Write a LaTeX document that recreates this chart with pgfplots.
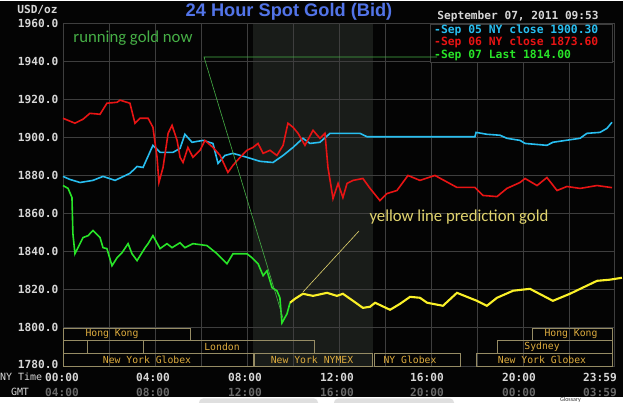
\documentclass[border=0pt]{standalone}
\usepackage{pgfplots}
\pgfplotsset{compat=1.18}
\usepackage{fontspec}
\setmainfont{Liberation Sans}
\newfontfamily\mono{DejaVu Sans Mono}
\newfontfamily\calib{Carlito}
\definecolor{bgk}{RGB}{4,4,4}
\definecolor{shadec}{RGB}{25,28,25}
\definecolor{gridc}{RGB}{62,62,62}
\definecolor{cy}{RGB}{40,190,240}
\definecolor{rd}{RGB}{232,20,20}
\definecolor{gr}{RGB}{40,228,40}
\definecolor{yl}{RGB}{250,240,40}
\definecolor{titlec}{RGB}{82,116,232}
\definecolor{labc}{RGB}{215,215,215}
\definecolor{gmtc}{RGB}{105,105,105}
\definecolor{sessl}{RGB}{150,140,100}
\definecolor{sesst}{RGB}{222,172,62}
\definecolor{anng}{RGB}{70,175,70}
\definecolor{anny}{RGB}{225,212,110}
\begin{document}
\begin{tikzpicture}
\useasboundingbox (0,0) rectangle (625bp,403bp);
\fill[white] (0,0) rectangle (625bp,403bp);
\fill[bgk] (0,6bp) rectangle (623bp,402bp);
\fill[shadec] (253bp,37bp) rectangle (373bp,380bp);
\fill[gray!25, rounded corners=4bp] (199bp,-6bp) rectangle (318bp,4.5bp);
\fill[gray!25, rounded corners=4bp] (334bp,-6bp) rectangle (454bp,4.5bp);
\node[anchor=base east, inner sep=0, font=\calib\fontsize{6}{6}\selectfont, text=black!80] at (581bp,1.5bp) {Glossary};
\begin{axis}[at={(63bp,37bp)}, anchor=south west, scale only axis,
  width=551.6bp, height=343bp,
  xmin=0, xmax=23.983, ymin=1780, ymax=1960,
  xtick={0,2,...,22}, ytick={1780,1800,...,1960},
  xticklabels={}, yticklabels={},
  grid=major, major grid style={gridc, line width=0.8bp},
  axis line style={gridc, line width=0.8bp},
  major tick length=0, clip=false]
% Sep 05 NY close (cyan)
\addplot[cy, line width=1.6bp] coordinates {
(0,1879.5) (0.30,1877.9) (0.74,1876.3) (1.30,1877.4) (1.74,1879.5) (2.26,1877.4)
(2.91,1881.1) (3.22,1884.7) (3.48,1884.2) (3.91,1895.8) (4.22,1892.1) (4.78,1892.1)
(5.09,1894.2) (5.30,1901.6) (5.61,1897.4) (6.09,1898.4) (6.52,1896.8) (6.74,1886.3)
(7.04,1890.5) (7.39,1891.6) (8.00,1889.5) (8.57,1887.4) (9.13,1886.8) (9.57,1890.5)
(10.00,1894.7) (10.43,1899.5) (10.74,1896.8) (11.17,1897.4) (11.61,1902.1) (12.91,1902.1)
(13.22,1900.3) (17.91,1900.3) (17.96,1902.6) (18.43,1901.6) (19.00,1901.1) (19.30,1899.5)
(19.87,1898.4) (20.09,1896.8) (21.04,1895.8) (21.30,1897.4) (22.48,1899.5) (22.78,1902.1)
(23.35,1902.6) (23.65,1904.7) (23.87,1907.9)};
% Sep 06 NY close (red)
\addplot[rd, line width=1.6bp] coordinates {
(0,1910.0) (0.52,1907.4) (0.87,1909.5) (1.17,1912.6) (1.61,1912.1) (1.91,1917.9)
(2.35,1918.4) (2.48,1919.5) (2.91,1917.9) (3.13,1907.4) (3.35,1910.0) (3.70,1910.0)
(3.91,1905.3) (4.09,1889.5) (4.17,1876.3) (4.35,1884.2) (4.57,1902.1) (4.74,1906.3)
(4.96,1898.4) (5.09,1889.5) (5.22,1886.8) (5.43,1894.7) (5.65,1889.5) (5.96,1893.2)
(6.17,1898.4) (6.52,1894.7) (6.83,1890.5) (7.17,1881.6) (7.39,1885.3) (7.70,1889.5)
(8.00,1893.2) (8.26,1894.7) (8.48,1896.8) (8.70,1891.6) (9.00,1893.2) (9.30,1890.5)
(9.57,1895.8) (9.78,1907.4) (10.00,1905.3) (10.22,1902.1) (10.52,1895.8) (10.87,1903.7)
(11.17,1899.5) (11.39,1902.1) (11.52,1884.2) (11.74,1867.9) (11.96,1875.8) (12.17,1868.4)
(12.35,1875.8) (12.61,1877.4) (13.04,1878.4) (13.35,1873.2) (13.78,1866.8) (14.09,1870.5)
(14.52,1872.1) (15.00,1880.0) (15.52,1877.4) (16.17,1880.0) (17.13,1873.7) (17.91,1873.7)
(18.26,1869.5) (18.87,1868.9) (19.30,1873.2) (19.87,1876.3) (20.09,1878.4) (20.61,1874.7)
(21.04,1878.9) (21.48,1872.1) (21.91,1874.2) (22.48,1873.2) (23.22,1874.7) (23.87,1873.6)};
% Sep 07 last (green)
\addplot[gr, line width=1.6bp] coordinates {
(0,1874.7) (0.22,1873.2) (0.39,1868.4) (0.43,1849.5) (0.52,1838.9) (0.65,1842.1)
(0.87,1847.4) (1.09,1848.4) (1.30,1851.1) (1.61,1847.4) (1.74,1842.1) (1.91,1841.6)
(2.13,1832.6) (2.35,1836.8) (2.57,1839.5) (2.83,1844.2) (3.00,1838.9) (3.22,1835.3)
(3.57,1842.1) (3.70,1844.2) (3.91,1848.4) (4.22,1841.6) (4.52,1844.2) (4.74,1842.1)
(5.09,1844.7) (5.30,1842.1) (5.65,1844.2) (6.26,1843.2) (6.70,1838.9) (7.13,1833.7)
(7.39,1838.9) (8.00,1838.9) (8.22,1836.8) (8.48,1833.7) (8.70,1827.4) (8.87,1830.0)
(9.09,1821.1) (9.30,1819.5) (9.43,1815.8) (9.52,1802.6) (9.74,1807.4) (9.87,1813.2)};
% prediction (yellow)
\addplot[yl, line width=2.1bp] coordinates {
(9.87,1813.2) (10.09,1815.3) (10.43,1817.9) (10.87,1816.8) (11.48,1818.4) (11.91,1816.8)
(12.17,1817.9) (12.61,1814.2) (13.04,1810.5) (13.35,1811.1) (13.57,1813.2) (14.22,1809.5)
(14.65,1812.6) (15.09,1816.3) (15.52,1815.8) (15.83,1813.2) (16.52,1811.6) (17.13,1818.4)
(18.00,1814.2) (18.43,1811.6) (18.87,1815.8) (19.57,1819.5) (20.30,1820.5) (21.30,1814.2)
(22.04,1817.9) (23.22,1824.7) (23.78,1825.3) (24.30,1826.3)};
\end{axis}
% y tick labels
\foreach \y/\t in {380/1960.0,341.7/1940.0,303.6/1920.0,265.5/1900.0,227.4/1880.0,189.4/1860.0,151.3/1840.0,113.2/1820.0,75.1/1800.0,38.5/1780.0}{
  \node[anchor=east, inner sep=0, text=labc, font=\mono\bfseries\fontsize{11.2}{11.2}\selectfont] at (58.5bp,\y bp) {\t};
}
% session boxes
\begin{scope}[draw=sessl, line width=0.9bp]
\draw (63bp,63bp) rectangle (190bp,75bp);
\draw (532bp,63bp) rectangle (612bp,75bp);
\draw (63bp,50bp) rectangle (87bp,63bp);
\draw (143bp,50bp) rectangle (314bp,63bp);
\draw (497bp,50bp) rectangle (612bp,63bp);
\draw (63bp,37bp) rectangle (253bp,50bp);
\draw (254bp,37bp) rectangle (372bp,50bp);
\draw (374bp,37bp) rectangle (460bp,50bp);
\draw (476bp,37bp) rectangle (612bp,50bp);
\end{scope}
\begin{scope}[every node/.style={inner sep=0, text=sesst, font=\mono\fontsize{9.8}{9.8}\selectfont}]
\node at (112bp,69bp) {Hong Kong};
\node at (571bp,69bp) {Hong Kong};
\node at (222bp,56.5bp) {London};
\node at (542bp,56.5bp) {Sydney};
\node at (147bp,43.5bp) {New York Globex};
\node at (312bp,43.5bp) {New York NYMEX};
\node at (410bp,43.5bp) {NY Globex};
\node at (542bp,43.5bp) {New York Globex};
\end{scope}
% x labels
\node[anchor=west, inner sep=0, text=labc, font=\mono\fontsize{10}{10}\selectfont] at (0bp,26bp) {NY Time};
\node[inner sep=0, text=labc, font=\mono\fontsize{10}{10}\selectfont] at (20bp,11bp) {GMT};
\foreach \x/\a/\b in {62/00:00/04:00,153/04:00/08:00,245/08:00/12:00,337/12:00/16:00,427/16:00/20:00,519/20:00/00:00,600/23:59/03:59}{
  \node[inner sep=0, text=labc, font=\mono\bfseries\fontsize{11.2}{11.2}\selectfont] at (\x bp,26bp) {\a};
  \node[inner sep=0, text=gmtc, font=\mono\bfseries\fontsize{11.2}{11.2}\selectfont] at (\x bp,11bp) {\b};
}
% header
\node[inner sep=0, text=labc, font=\mono\bfseries\fontsize{11.2}{11.2}\selectfont] at (37.5bp,393bp) {USD/oz};
\node[inner sep=0, text=titlec, font=\bfseries\fontsize{18.3}{18.3}\selectfont] at (289bp,391bp) {24 Hour Spot Gold (Bid)};
\node[inner sep=0, text=labc, font=\mono\bfseries\fontsize{11.2}{11.2}\selectfont] at (518bp,387bp) {September 07, 2011 09:53};
% legend
\fill[bgk] (430bp,341bp) rectangle (612bp,379bp);
\draw[gridc, line width=0.8bp] (430bp,341bp) rectangle (612bp,379bp);
\begin{scope}[every node/.style={anchor=west, inner sep=0, font=\mono\bfseries\fontsize{11.4}{11.4}\selectfont}]
\node[text=cy] at (434bp,373bp) {-Sep 05 NY close 1900.30};
\node[text=rd] at (434bp,360.5bp) {-Sep 06 NY close 1873.60};
\node[text=gr] at (434bp,348bp) {-Sep 07 Last 1814.00};
\end{scope}
% annotations
\draw[anng, line width=0.6bp] (437bp,346bp) -- (204bp,346bp) -- (283bp,85bp);
\draw[anny, line width=0.6bp] (359bp,172bp) -- (303bp,111bp);
\node[inner sep=0, text=anng, font=\calib\fontsize{16.8}{16.8}\selectfont] at (133bp,365bp) {running gold now};
\node[inner sep=0, text=anny, font=\calib\fontsize{16.8}{16.8}\selectfont] at (459bp,186bp) {yellow line prediction gold};
\end{tikzpicture}
\end{document}
